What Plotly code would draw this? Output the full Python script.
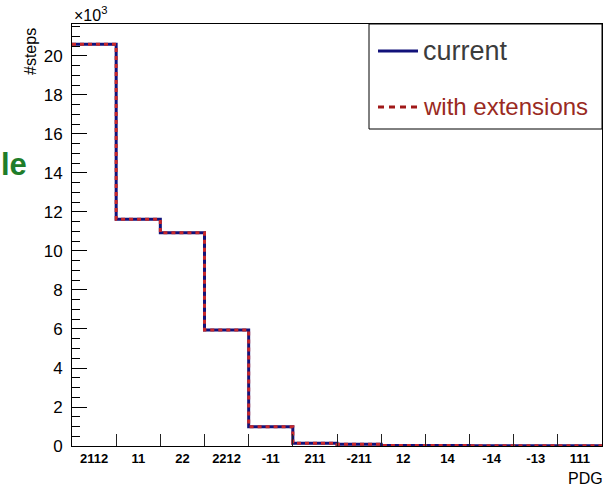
import plotly.graph_objects as go

# PDG codes of the particles and the number of steps per particle (one bin each)
pdg_labels = ["2112", "11", "22", "2212", "-11", "211", "-211", "12", "14", "-14", "-13", "111"]
steps_current = [20600, 11630, 10930, 5950, 990, 140, 90, 30, 20, 15, 10, 10]
steps_extended = [20600, 11630, 10930, 5950, 990, 140, 90, 30, 20, 15, 10, 10]

SCALE = 1000.0  # y axis shown in units of 10^3
n = len(pdg_labels)
edges = list(range(n + 1))
centers = [i + 0.5 for i in range(n)]


def step_y(vals):
    v = [x / SCALE for x in vals]
    return v + [v[-1]]


NAVY = "#12127a"
RED = "#c8282a"

fig = go.Figure()
fig.add_trace(go.Scatter(
    x=edges, y=step_y(steps_current), mode="lines", line_shape="hv",
    line=dict(color=NAVY, width=3), name="current", showlegend=False,
))
fig.add_trace(go.Scatter(
    x=edges, y=step_y(steps_extended), mode="lines", line_shape="hv",
    line=dict(color=RED, width=3, dash="4px,4px"), name="with extensions", showlegend=False,
))
# invisible trace carrying the bin-edge tick axis
fig.add_trace(go.Scatter(x=[0, n], y=[0, 0], mode="lines", line=dict(width=0),
                         xaxis="x2", showlegend=False, hoverinfo="skip"))

fig.update_layout(
    width=607, height=486,
    margin=dict(l=72, r=5, t=24, b=40),
    paper_bgcolor="white", plot_bgcolor="white",
    font=dict(family="Liberation Sans, Arial, sans-serif", color="black"),
    xaxis=dict(
        range=[0, n], tickmode="array", tickvals=centers, ticktext=pdg_labels,
        ticks="", showgrid=False, zeroline=False,
        showline=True, mirror=True, linecolor="black", linewidth=1,
        tickfont=dict(size=13, family="Liberation Sans, Arial, sans-serif", weight="bold"),
    ),
    xaxis2=dict(
        range=[0, n], overlaying="x", anchor="y", side="bottom",
        tickmode="array", tickvals=edges[1:-1], ticks="inside", ticklen=12,
        tickcolor="#222", tickwidth=1, showticklabels=False,
        showgrid=False, zeroline=False, showline=False,
    ),
    yaxis=dict(
        range=[0, 21.64], tickmode="linear", tick0=0, dtick=2,
        ticks="inside", ticklen=15, tickcolor="black", tickwidth=1,
        minor=dict(dtick=0.5, ticks="inside", ticklen=8, tickcolor="black", tickwidth=1, showgrid=False),
        showgrid=False, zeroline=False,
        showline=True, mirror=True, linecolor="black", linewidth=1,
        tickfont=dict(size=17), ticklabelstandoff=5,
    ),
)

# axis titles and exponent
fig.add_annotation(text="#steps", textangle=-90, xref="paper", yref="paper",
                   x=(30 - 72) / 530, y=(446 - 52) / 422, xanchor="center", yanchor="middle",
                   showarrow=False, font=dict(size=16))
fig.add_annotation(text="×10<sup>3</sup>", xref="paper", yref="paper",
                   x=0.0, y=1.0, xanchor="left", yanchor="bottom", yshift=-2,
                   showarrow=False, font=dict(size=16))
fig.add_annotation(text="PDG", xref="paper", yref="paper",
                   x=1.0, y=0, xanchor="right", yanchor="top", yshift=-22, xshift=3,
                   showarrow=False, font=dict(size=16))
fig.add_annotation(text="<b>le</b>", xref="paper", yref="paper",
                   x=(29 - 72) / 530, y=(446 - 164) / 422, xanchor="right", yanchor="middle",
                   showarrow=False, font=dict(size=31, color="#1e7d2a"))

# legend box
lx0, lx1 = (369 - 72) / 530, 1.0
ly0, ly1 = (446 - 129) / 422, 1.0
fig.add_shape(type="rect", xref="paper", yref="paper", x0=lx0, x1=lx1, y0=ly0, y1=ly1,
              line=dict(color="black", width=1), fillcolor="white", layer="above")
ya = (446 - 51) / 422
yb = (446 - 107) / 422
sx0, sx1 = (378 - 72) / 530, (418 - 72) / 530
fig.add_shape(type="line", xref="paper", yref="paper", x0=sx0, x1=sx1, y0=ya, y1=ya,
              line=dict(color=NAVY, width=3), layer="above")
fig.add_shape(type="line", xref="paper", yref="paper", x0=sx0, x1=sx1, y0=yb, y1=yb,
              line=dict(color="#a01818", width=3, dash="6px,5px"), layer="above")
fig.add_annotation(text="current", xref="paper", yref="paper",
                   x=(421 - 72) / 530, y=ya, xanchor="left", yanchor="middle",
                   showarrow=False, font=dict(size=27, color="#3c3c3c"))
fig.add_annotation(text="with extensions", xref="paper", yref="paper",
                   x=(421 - 72) / 530, y=yb, xanchor="left", yanchor="middle",
                   showarrow=False, font=dict(size=24, color="#9a2a22"))

fig.write_html("out.html")
